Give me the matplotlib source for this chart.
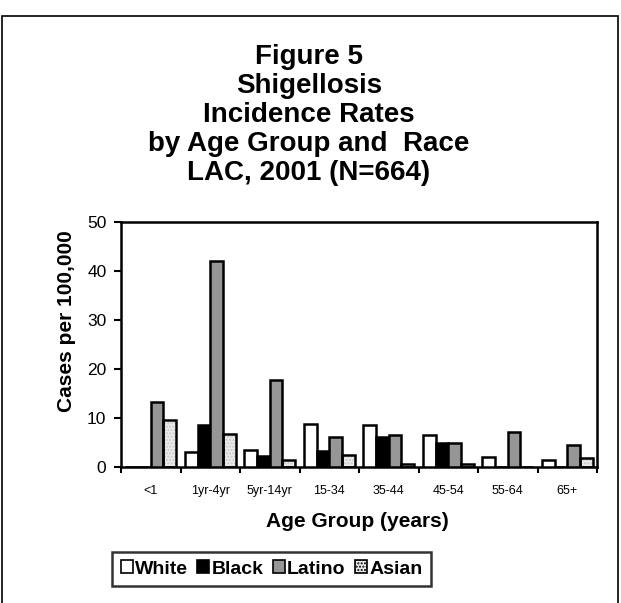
import numpy as np
import matplotlib.pyplot as plt
from matplotlib.patches import Patch, Rectangle

plt.rcParams['font.family'] = ['Liberation Sans', 'DejaVu Sans']

age_groups = ['<1', '1yr-4yr', '5yr-14yr', '15-34', '35-44', '45-54', '55-64', '65+']
races = ['White', 'Black', 'Latino', 'Asian']
white = [0, 3.1, 3.5, 8.8, 8.6, 6.6, 2.1, 1.4]
black = [0, 8.6, 2.3, 3.2, 6.1, 5.0, 0, 0]
latino = [13.3, 42.0, 17.8, 6.1, 6.5, 4.8, 7.2, 4.5]
asian = [9.5, 6.7, 1.5, 2.4, 0.6, 0.7, 0, 1.8]
series = [white, black, latino, asian]
colors = ['white', 'black', '#969696', '#ebebeb']

fig = plt.figure(figsize=(6.21, 6.03), dpi=100)
ax = fig.add_axes([121/621, 1-467/603, 476/621, 245/603])

# outer chart frame
fig.patches.append(Rectangle((2/621, -0.05), 616/621, 1.05 - 16/603, transform=fig.transFigure,
                             fill=False, edgecolor='black', linewidth=1.2))

x = np.arange(len(age_groups))
w = 1 / (4 + 0.7)
for i, vals in enumerate(series):
    pos = x - 0.5 + 0.35 * w + w * (i + 0.5)
    if races[i] == 'Asian':
        ax.bar(pos, vals, w, color=colors[i], hatch='.....', edgecolor='#c8c8c8', linewidth=0, zorder=2)
        ax.bar(pos, vals, w, fill=False, edgecolor='black', linewidth=1.8, zorder=3)
    else:
        ax.bar(pos, vals, w, color=colors[i], edgecolor='black', linewidth=1.8, zorder=3)

ax.set_xlim(-0.5, 7.5)
ax.set_ylim(0, 50)
ax.set_yticks(range(0, 51, 10))
ax.set_xticks(np.arange(-0.5, 8, 1))
ax.set_xticklabels([])
ax.set_xticks(x, minor=True)
ax.set_xticklabels(age_groups, minor=True, fontsize=9)
ax.tick_params(axis='x', which='minor', length=0, pad=13)
ax.tick_params(axis='x', which='major', length=4.5, width=1.5, direction='out')
ax.tick_params(axis='y', length=5, width=1.5, labelsize=12.5, pad=5.5)
for s in ax.spines.values():
    s.set_linewidth(1.8)

fig.text(66/621, 1 - 321/603, 'Cases per 100,000', rotation=90, ha='center', va='center',
         fontsize=15, fontweight='bold')
fig.text(357/621, 1 - 527/603, 'Age Group (years)', ha='center', va='baseline',
         fontsize=15, fontweight='bold')

title = 'Figure 5\nShigellosis\nIncidence Rates\nby Age Group and  Race\nLAC, 2001 (N=664)'
fig.text(309/621, 1 - 115/603, title, ha='center', va='center', fontsize=20,
         fontweight='bold', linespacing=1.15)

handles = [Patch(facecolor=c, edgecolor='black', linewidth=1.2,
                 hatch='.....' if r == 'Asian' else None) for c, r in zip(colors, races)]
leg = fig.legend(handles, races, loc='center', bbox_to_anchor=(271.5/621, 1 - 569/603),
                 ncol=4, frameon=True, fancybox=False, edgecolor='black',
                 prop={'weight': 'bold', 'size': 14}, handlelength=0.62, handleheight=0.62,
                 handletextpad=0.1, columnspacing=0.5, borderpad=0.45, borderaxespad=0)
leg.get_frame().set_linewidth(1.8)

fig.savefig('out.png', dpi=100)
